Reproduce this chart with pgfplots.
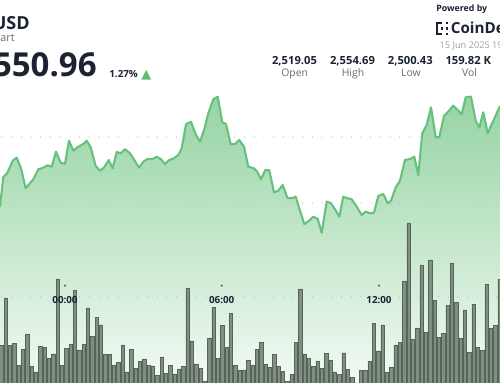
\documentclass[border=0pt]{standalone}
\usepackage{pgfplots}
\pgfplotsset{compat=1.18}
\usepackage{pgfplotstable}
\usepackage{fontspec}
\setmainfont{Open Sans}
\newfontfamily\symfont{DejaVu Sans}
\definecolor{linegreen}{HTML}{66C17D}
\definecolor{topgreen}{HTML}{96D4A4}
\definecolor{midgreen}{HTML}{C8E9D0}
\definecolor{botgreen}{HTML}{F3FAF4}
\definecolor{barfill}{HTML}{809080}
\definecolor{baredge}{HTML}{56645A}
\definecolor{txtdark}{HTML}{1B2333}
\definecolor{txtgray}{HTML}{676C74}
\definecolor{txtlight}{HTML}{9DA1A8}
\definecolor{upgreen}{HTML}{5DBB6E}
\definecolor{gridgray}{HTML}{B4B4B4}

\pgfplotstableread{
x y
0 176.3
3.3 206
7.3 210
12.7 222.3
16.7 225.3
21 214.7
25.7 194.7
33.3 203.7
38.3 213.7
42.7 215
47.3 217.7
51.7 216.3
56 231.3
60.7 220.3
65 219
69 242.3
73.3 232.3
78.3 236.3
83.3 239
86.7 242.3
90.7 235.7
95.7 217
100 212.3
104.3 215.7
108.7 223
112.7 214.7
116.7 231
120.7 229.7
125 233.7
130 229.7
134.3 223
139 215.3
143.3 221.3
147.7 224
152.3 223.7
156.7 226.3
161 223.7
165 219
169.3 223
174 224.7
178.3 228
181.7 234.7
186 258.7
191 261.3
195.7 248.7
200 241.3
204.3 253.7
208.3 269.7
213.3 283.7
217.7 286.3
222.3 260.7
226 259
230.7 238.7
235 239
239.3 243
244 236.3
248.3 216.3
254 214.7
257.3 211.3
261 203.7
265.3 213
269.3 212.7
274 190.7
278.3 192.3
282.7 198
287.3 185.3
291.7 184.7
295.7 186.3
300 172.3
304.3 159
309 162
313.3 166.3
317.7 164
321.7 150.3
326.7 181.3
331 179.7
335 173.7
339.3 166.3
343.3 186.3
347.3 184.7
351.7 183.7
356.7 176.3
361.7 168
365.7 171.3
370 169.7
374 170.3
378.3 187
383.3 189
387.7 179.7
391 182.3
395.7 195.3
400 202.3
405 223
410 224
414.3 226.3
418.3 208
422.3 249.7
426.7 258
431 275.7
435.7 245.7
439.3 245.7
444 267
449 272.3
453.3 277.3
457.7 273
461.7 268.7
465.7 285.7
471 286.3
475.7 262.3
479.3 255.3
483.3 270.7
487.7 249.7
493.3 262.3
500 277
}\price

\pgfplotstableread{
v
37.7
85
37.3
39.3
17.7
33.7
49
17
11
36.3
35.7
24.3
29
104
17.7
34.7
38.7
92.3
33
39
75
46.3
65.3
58
28.3
28.3
18
20.3
38
11
33.7
14.3
21.3
24
17.7
17
7.7
26
9.3
17.3
9
14
16.3
94.7
42
19
14.3
1.3
45
75.3
24.3
57.3
35.3
69.3
17.7
13
13
22.7
17.3
33.7
40.3
18.7
15.3
28.3
16.3
11.7
1.7
8.3
40.7
94
29
24.3
16.7
22
14.3
29.7
22.3
11
8.7
30
13.7
5.7
0
12.3
12.3
21.3
59.3
32
58
10.7
15.7
38
40.7
102
159.7
43.7
55
117.7
50.7
123
82.3
45.7
49.7
77.3
119.3
80.7
44.7
73
30.3
78.7
35.7
32.3
98.3
54.7
57.3
103.7
}\vol

\begin{document}
\begin{tikzpicture}
\useasboundingbox (0,0) rectangle (250pt,191.5pt);
\clip (0,0) rectangle (250pt,191.5pt);
\begin{axis}[
  at={(0,0)}, anchor=south west,
  scale only axis, width=250pt, height=191.5pt,
  xmin=0, xmax=500, ymin=0, ymax=383,
  axis lines=none, ticks=none, clip=true,
]
% area fill
\addplot[draw=none, shading=axis, top color=topgreen, middle color=midgreen, bottom color=botgreen]
  table[x=x, y=y] {\price} \closedcycle;
% dotted grid lines
\addplot[gridgray, line width=0.6pt, line cap=round, dash pattern=on 0pt off 4.85pt] coordinates {(2,246) (500,246)};
\addplot[gridgray, line width=0.6pt, line cap=round, dash pattern=on 0pt off 4.85pt] coordinates {(2,180) (500,180)};
\addplot[gridgray, line width=0.6pt, line cap=round, dash pattern=on 0pt off 4.85pt] coordinates {(2,86) (500,86)};
% volume bars
\addplot[ybar, bar width=3.3, fill=barfill, draw=baredge, line width=0.3pt]
  table[x expr={1.33+4.333*\coordindex}, y=v] {\vol};
% price line
\addplot[linegreen, line width=1.05pt, line join=round] table[x=x, y=y] {\price};
% tick dots above time labels
\addplot[only marks, mark=*, mark size=0.35pt, color=txtgray] coordinates {(65,97.3) (221.7,97.3) (379,97.3)};

% time labels
\node[anchor=base, font=\fontsize{4.9}{5}\selectfont\bfseries, text=txtdark] at (axis cs:65,79.7) {00:00};
\node[anchor=base, font=\fontsize{4.9}{5}\selectfont\bfseries, text=txtdark] at (axis cs:221.7,79.7) {06:00};
\node[anchor=base, font=\fontsize{4.9}{5}\selectfont\bfseries, text=txtdark] at (axis cs:379,79.7) {12:00};

% header texts
\node[anchor=base east, inner sep=0pt, font=\fontsize{9}{9}\selectfont\bfseries, text=txtdark] at (axis cs:30,353) {USD};
\node[anchor=base east, inner sep=0pt, font=\fontsize{5.4}{6}\selectfont, text=txtgray] at (axis cs:15,341) {Chart};
\node[anchor=base east, inner sep=0pt, font=\fontsize{16.5}{17}\selectfont\bfseries, text=txtdark] at (axis cs:97,306) {2,550.96};
\node[anchor=base west, inner sep=0pt, font=\fontsize{4.9}{5}\selectfont\bfseries, text=txtdark] at (axis cs:109,305) {1.27\%};
\node[anchor=base west, inner sep=0pt, font=\fontsize{6.5}{7}\selectfont\symfont, text=upgreen] at (axis cs:141,304) {▲};

% stats
\node[anchor=base, inner sep=0pt, font=\fontsize{5.6}{6}\selectfont\bfseries, text=txtdark] at (axis cs:294.5,318) {2,519.05};
\node[anchor=base, inner sep=0pt, font=\fontsize{5.6}{6}\selectfont\bfseries, text=txtdark] at (axis cs:352.5,318) {2,554.69};
\node[anchor=base, inner sep=0pt, font=\fontsize{5.6}{6}\selectfont\bfseries, text=txtdark] at (axis cs:410.3,318) {2,500.43};
\node[anchor=base, inner sep=0pt, font=\fontsize{5.6}{6}\selectfont\bfseries, text=txtdark] at (axis cs:468.3,318) {159.82 K};
\node[anchor=base, inner sep=0pt, font=\fontsize{5.2}{6}\selectfont, text=txtgray] at (axis cs:294.7,306.3) {Open};
\node[anchor=base, inner sep=0pt, font=\fontsize{5.2}{6}\selectfont, text=txtgray] at (axis cs:353,306.3) {High};
\node[anchor=base, inner sep=0pt, font=\fontsize{5.2}{6}\selectfont, text=txtgray] at (axis cs:411,306.3) {Low};
\node[anchor=base, inner sep=0pt, font=\fontsize{5.2}{6}\selectfont, text=txtgray] at (axis cs:469.5,306.3) {Vol};

% powered by
\node[anchor=base west, inner sep=0pt, font=\fontsize{4.4}{5}\selectfont\bfseries, text=txtdark] at (axis cs:436,371) {Powered by};
\node[anchor=base west, inner sep=0pt, font=\fontsize{7.6}{8}\selectfont\bfseries, text=txtdark] at (axis cs:450.5,349.7) {CoinDesk};
\node[anchor=base west, inner sep=0pt, font=\fontsize{4.6}{5}\selectfont, text=txtlight] at (axis cs:439.3,334) {15 Jun 2025 19:00};
% logo icon
\fill[txtdark] (axis cs:436,348) rectangle (axis cs:438.2,361);
\fill[txtdark] (axis cs:436,358.8) rectangle (axis cs:442,361);
\fill[txtdark] (axis cs:436,348) rectangle (axis cs:442,350.2);
\fill[txtdark] (axis cs:446,358.8) rectangle (axis cs:448.5,361);
\fill[txtdark] (axis cs:446,353.4) rectangle (axis cs:448.5,355.6);
\fill[txtdark] (axis cs:446,348) rectangle (axis cs:448.5,350.2);
\fill[txtdark] (axis cs:441,353.4) rectangle (axis cs:443.4,355.6);
\end{axis}
\end{tikzpicture}
\end{document}
